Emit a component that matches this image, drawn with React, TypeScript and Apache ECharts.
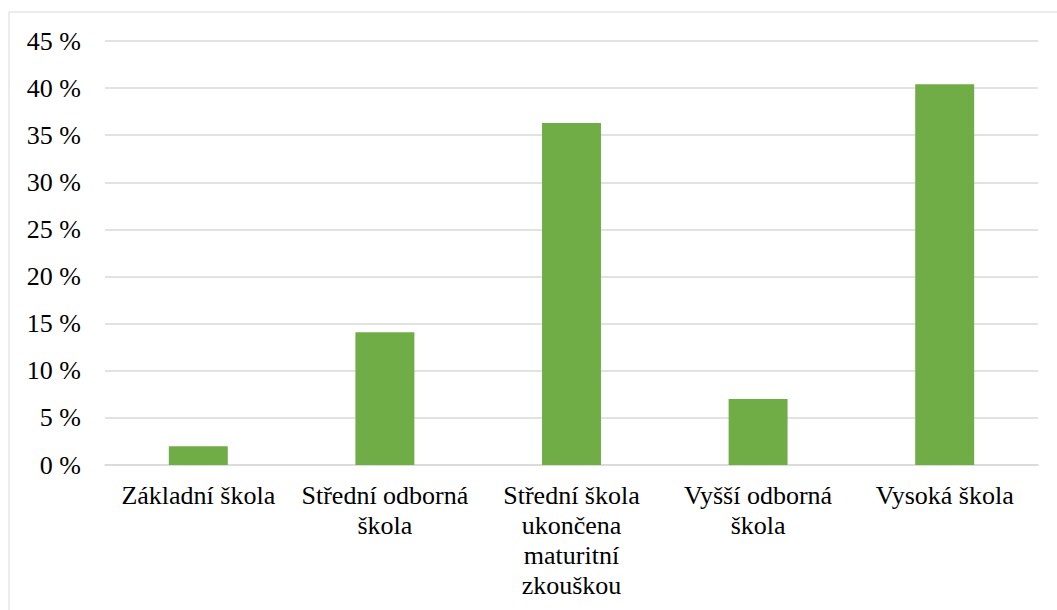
import React, { useEffect, useRef } from "react";
import * as echarts from "echarts";

const categories = [
  "Základní škola",
  "Střední odborná\nškola",
  "Střední škola\nukončena\nmaturitní\nzkouškou",
  "Vyšší odborná\nškola",
  "Vysoká škola",
];
const values = [2.0, 14.1, 36.3, 7.0, 40.4];

export default function App() {
  const ref = useRef<HTMLDivElement>(null);
  useEffect(() => {
    if (!ref.current) return;
    const chart = echarts.init(ref.current, null, { renderer: "svg" });
    const font = "Liberation Serif";
    chart.setOption({
      animation: false,
      backgroundColor: "#ffffff",
      graphic: [
        {
          type: "rect",
          shape: { x: 9, y: 12, width: 1200, height: 800 },
          style: { fill: "none", stroke: "#d9d9d9", lineWidth: 1 },
          silent: true,
        },
      ],
      grid: { left: 105, right: 19, top: 41, bottom: 145, containLabel: false },
      xAxis: {
        type: "category",
        data: categories,
        axisLine: { show: true, lineStyle: { color: "#d9d9d9", width: 1.5 } },
        axisTick: { show: false },
        axisLabel: {
          interval: 0,
          color: "#000",
          fontFamily: font,
          fontSize: 26,
          lineHeight: 30,
          margin: 15,
        },
      },
      yAxis: {
        type: "value",
        min: 0,
        max: 45,
        interval: 5,
        axisLine: { show: false },
        axisTick: { show: false },
        splitLine: { lineStyle: { color: "#d9d9d9", width: 1.5 } },
        axisLabel: {
          color: "#000",
          fontFamily: font,
          fontSize: 26,
          margin: 24,
          formatter: (v: number) => `${v} %`,
        },
      },
      series: [
        {
          type: "bar",
          data: values,
          barWidth: "31.6%",
          itemStyle: { color: "#70ad47" },
        },
      ],
    });
    return () => chart.dispose();
  }, []);
  return (
    <div
      ref={ref}
      style={{ position: "fixed", left: 0, top: 0, width: 1057, height: 610 }}
    />
  );
}
